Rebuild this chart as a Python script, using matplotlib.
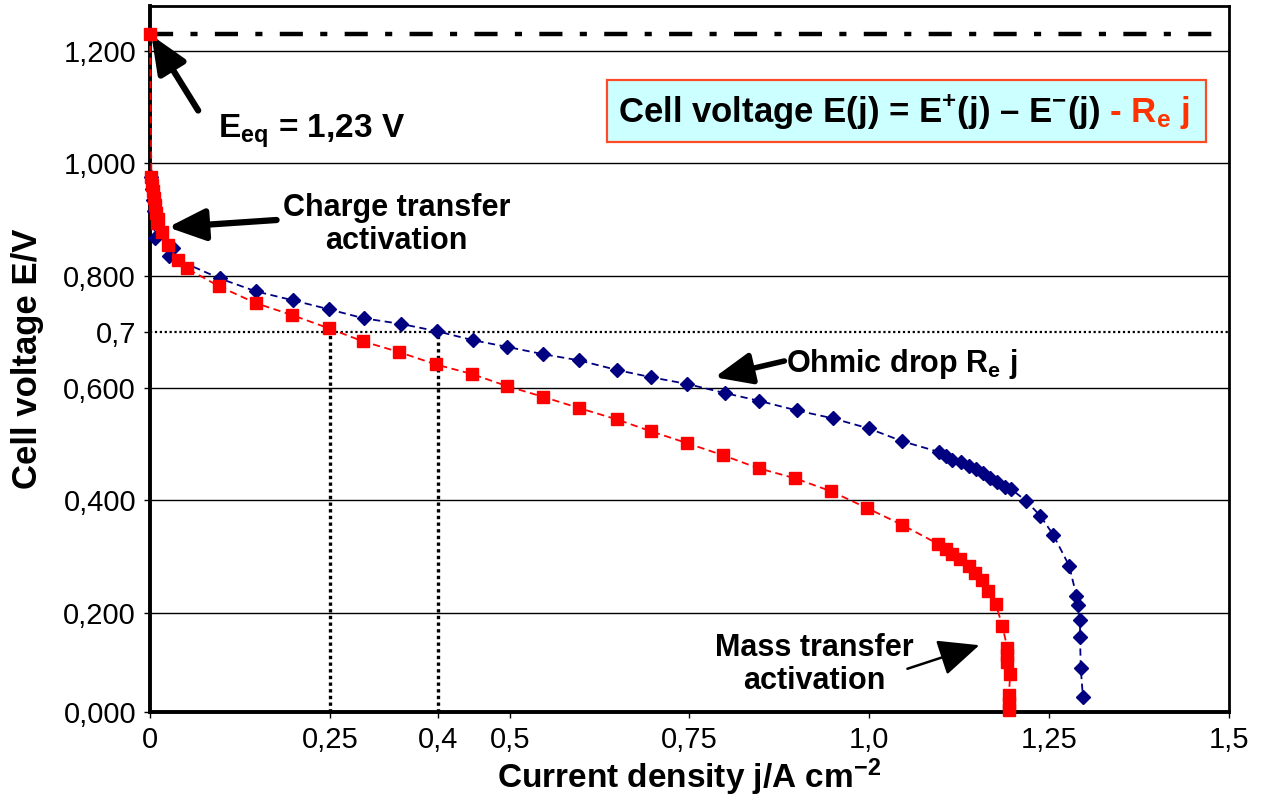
import matplotlib.pyplot as plt
from matplotlib.patches import Rectangle

plt.rcParams['font.family'] = ['Liberation Sans', 'DejaVu Sans']
plt.rcParams['mathtext.fontset'] = 'custom'
plt.rcParams['mathtext.rm'] = 'Liberation Sans:bold'
plt.rcParams['mathtext.it'] = 'Liberation Sans:bold'
plt.rcParams['mathtext.bf'] = 'Liberation Sans:bold'

# polarisation curve without ohmic drop (blue diamonds)
j_blue = [0.002, 0.003, 0.004, 0.005, 0.007, 0.032, 0.026, 0.097, 0.147, 0.199,
          0.249, 0.297, 0.349, 0.399, 0.449, 0.497, 0.547, 0.597, 0.649, 0.697,
          0.747, 0.799, 0.847, 0.899, 0.949, 0.999, 1.046, 1.097, 1.107, 1.115,
          1.128, 1.138, 1.149, 1.158, 1.168, 1.178, 1.189, 1.197, 1.218, 1.238,
          1.256, 1.278, 1.288, 1.290, 1.293, 1.293, 1.294, 1.297]
E_blue = [0.975, 0.955, 0.935, 0.915, 0.867, 0.849, 0.835, 0.795, 0.772, 0.756,
          0.740, 0.724, 0.714, 0.701, 0.685, 0.673, 0.660, 0.649, 0.632, 0.619,
          0.607, 0.591, 0.577, 0.560, 0.546, 0.528, 0.505, 0.486, 0.479, 0.472,
          0.468, 0.461, 0.456, 0.448, 0.440, 0.432, 0.423, 0.420, 0.399, 0.372,
          0.338, 0.283, 0.230, 0.214, 0.187, 0.157, 0.101, 0.050]

# cell voltage including ohmic drop Re*j (red squares)
j_red = [0.0, 0.002, 0.003, 0.004, 0.005, 0.007, 0.009, 0.011, 0.010, 0.017,
         0.025, 0.039, 0.051, 0.096, 0.147, 0.197, 0.249, 0.296, 0.346, 0.397,
         0.447, 0.497, 0.547, 0.597, 0.649, 0.696, 0.746, 0.797, 0.846, 0.897,
         0.947, 0.997, 1.046, 1.096, 1.107, 1.115, 1.126, 1.138, 1.147, 1.157,
         1.165, 1.176, 1.185, 1.192, 1.192, 1.192, 1.196, 1.194, 1.194, 1.194]
E_red = [1.230, 0.975, 0.962, 0.950, 0.938, 0.925, 0.912, 0.900, 0.893, 0.877,
         0.854, 0.827, 0.813, 0.781, 0.751, 0.730, 0.706, 0.683, 0.664, 0.642,
         0.625, 0.603, 0.584, 0.564, 0.544, 0.523, 0.502, 0.480, 0.457, 0.439,
         0.416, 0.386, 0.356, 0.322, 0.313, 0.304, 0.295, 0.283, 0.270, 0.258,
         0.238, 0.215, 0.176, 0.137, 0.125, 0.112, 0.091, 0.053, 0.039, 0.027]

E_eq = 1.23
E_work = 0.7
j_work = [0.25, 0.4]

x_ticks = [0, 0.25, 0.4, 0.5, 0.75, 1.0, 1.25, 1.5]
x_labels = ['0', '0,25', '0,4', '0,5', '0,75', '1,0', '1,25', '1,5']
y_grid = [0.2, 0.4, 0.6, 0.8, 1.0, 1.2]
y_floor = 0.023  # the x axis sits slightly above zero in the original
y_ticks = [y_floor, 0.2, 0.4, 0.6, 0.7, 0.8, 1.0, 1.2]
y_labels = ['0,000', '0,200', '0,400', '0,600', '0,7', '0,800', '1,000', '1,200']

fig = plt.figure(figsize=(12.71, 8.02), dpi=100)
ax = fig.add_axes([0.118, 0.1122, 0.8489, 0.8803])

for v in y_grid:
    ax.axhline(v, color='black', lw=1, zorder=1)

ax.axhline(E_work, color='black', lw=1.6, ls=(0, (1, 1.2)), zorder=1)
ax.vlines(j_work, y_floor, E_work, color='black', lw=2.4, ls=(0, (1, 1)), zorder=1)
ax.axhline(E_eq, color='black', lw=3.2, ls=(0, (5.2, 3.9, 1.6, 3.9)), zorder=2)

ax.plot(j_blue, E_blue, color='#000080', ls=(0, (4, 2.5)), lw=1.3,
        marker='D', ms=7.5, mec='#000080', mfc='#000080', zorder=3, clip_on=False)
ax.plot(j_red, E_red, color='#FF0000', ls=(0, (4, 2.5)), lw=1.3,
        marker='s', ms=8.5, mec='#FF0000', mfc='#FF0000', zorder=4, clip_on=False)

ax.set_xlim(0, 1.5)
ax.set_ylim(y_floor, 1.28)
ax.set_xticks(x_ticks)
ax.set_xticklabels(x_labels)
ax.set_yticks(y_ticks)
ax.set_yticklabels(y_labels)
ax.tick_params(labelsize=21, length=4, width=1, direction='out', pad=6)

for side in ['left', 'bottom']:
    ax.spines[side].set_linewidth(2.8)
for side in ['top', 'right']:
    ax.spines[side].set_linewidth(2.0)

ax.set_xlabel('Current density j/A cm$^{-2}$', fontsize=24, fontweight='bold', labelpad=2)
ax.set_ylabel('Cell voltage E/V', fontsize=25, fontweight='bold', labelpad=14)

# annotations
big_head = '-|>,head_length=0.75,head_width=0.32'
ax.annotate('', xy=(0.002, 1.228), xytext=(0.067, 1.094),
            arrowprops=dict(arrowstyle=big_head, color='black', lw=4.5,
                            mutation_scale=30, shrinkA=0, shrinkB=0))
ax.text(0.094, 1.046, 'E$_{eq}$ = 1,23 V', fontsize=24, fontweight='bold', va='baseline')

ax.annotate('', xy=(0.025, 0.886), xytext=(0.176, 0.899),
            arrowprops=dict(arrowstyle=big_head, color='black', lw=4.5,
                            mutation_scale=30, shrinkA=0, shrinkB=0))
ax.text(0.343, 0.891, 'Charge transfer\nactivation', fontsize=22, fontweight='bold',
        ha='center', va='center', linespacing=1.15)

ax.annotate('', xy=(0.785, 0.619), xytext=(0.882, 0.648),
            arrowprops=dict(arrowstyle=big_head, color='black', lw=4,
                            mutation_scale=30, shrinkA=0, shrinkB=0))
ax.text(0.884, 0.628, 'Ohmic drop R$_{e}$ j', fontsize=22, fontweight='bold', va='baseline')

ax.annotate('', xy=(1.153, 0.142), xytext=(1.053, 0.100),
            arrowprops=dict(arrowstyle='-|>,head_length=0.85,head_width=0.38',
                            color='black', lw=1.8, mutation_scale=30,
                            shrinkA=0, shrinkB=0))
ax.text(0.924, 0.108, 'Mass transfer\nactivation', fontsize=22, fontweight='bold',
        ha='center', va='center', linespacing=1.15)

# equation box
ax.add_patch(Rectangle((0.636, 1.037), 0.832, 0.111, facecolor='#CCFFFF',
                       edgecolor='#FF4A26', lw=1.6, zorder=5))
t1 = ax.text(0.650, 1.093, 'Cell voltage E(j) = E$^{+}$(j) – E$^{-}$(j)', fontsize=25,
             fontweight='bold', va='center', zorder=6)
ax.annotate(' - R$_{e}$ j', xy=(1, 0), xycoords=t1, va='bottom', ha='left',
            fontsize=25, fontweight='bold', color='#FF3300', zorder=6)

fig.savefig('out.png', dpi=100)
